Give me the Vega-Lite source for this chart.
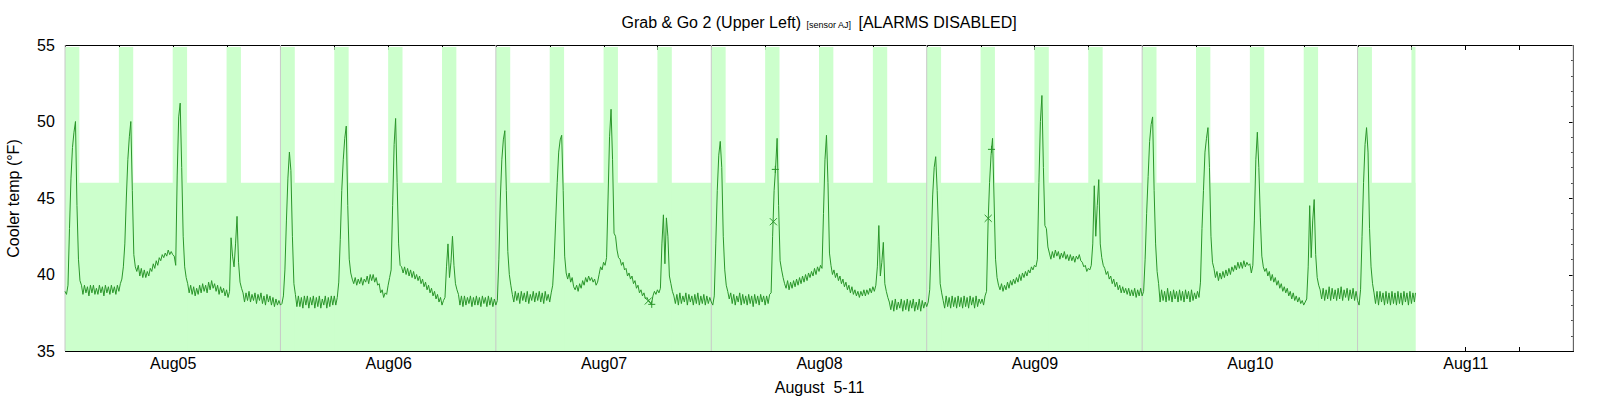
{
  "$schema": "https://vega.github.io/schema/vega-lite/v6.json",
  "width": 1508,
  "height": 306,
  "autosize": {"type": "none"},
  "padding": {"left": 65, "top": 45, "right": 27, "bottom": 49},
  "background": "white",
  "config": {
    "view": {"stroke": null},
    "axis": {
      "labelFont": "Liberation Sans",
      "titleFont": "Liberation Sans",
      "labelFontSize": 16,
      "titleFontSize": 16,
      "titleFontWeight": "normal",
      "labelColor": "#000",
      "titleColor": "#000",
      "tickColor": "#000",
      "domainColor": "#000",
      "tickWidth": 1,
      "domainWidth": 1,
      "grid": false,
      "zindex": 1
    }
  },
  "datasets": {
    "zones": [
      {"s": "2019-08-04T12:00Z", "e": "2019-08-10T18:27Z", "lo": 35, "hi": 46},
      {"s": "2019-08-04T12:00Z", "e": "2019-08-04T13:36Z", "lo": 35, "hi": 54.87},
      {"s": "2019-08-04T18:00Z", "e": "2019-08-04T19:36Z", "lo": 35, "hi": 54.87},
      {"s": "2019-08-05T00:00Z", "e": "2019-08-05T01:36Z", "lo": 35, "hi": 54.87},
      {"s": "2019-08-05T06:00Z", "e": "2019-08-05T07:36Z", "lo": 35, "hi": 54.87},
      {"s": "2019-08-05T12:00Z", "e": "2019-08-05T13:36Z", "lo": 35, "hi": 54.87},
      {"s": "2019-08-05T18:00Z", "e": "2019-08-05T19:36Z", "lo": 35, "hi": 54.87},
      {"s": "2019-08-06T00:00Z", "e": "2019-08-06T01:36Z", "lo": 35, "hi": 54.87},
      {"s": "2019-08-06T06:00Z", "e": "2019-08-06T07:36Z", "lo": 35, "hi": 54.87},
      {"s": "2019-08-06T12:00Z", "e": "2019-08-06T13:36Z", "lo": 35, "hi": 54.87},
      {"s": "2019-08-06T18:00Z", "e": "2019-08-06T19:36Z", "lo": 35, "hi": 54.87},
      {"s": "2019-08-07T00:00Z", "e": "2019-08-07T01:36Z", "lo": 35, "hi": 54.87},
      {"s": "2019-08-07T06:00Z", "e": "2019-08-07T07:36Z", "lo": 35, "hi": 54.87},
      {"s": "2019-08-07T12:00Z", "e": "2019-08-07T13:36Z", "lo": 35, "hi": 54.87},
      {"s": "2019-08-07T18:00Z", "e": "2019-08-07T19:36Z", "lo": 35, "hi": 54.87},
      {"s": "2019-08-08T00:00Z", "e": "2019-08-08T01:36Z", "lo": 35, "hi": 54.87},
      {"s": "2019-08-08T06:00Z", "e": "2019-08-08T07:36Z", "lo": 35, "hi": 54.87},
      {"s": "2019-08-08T12:00Z", "e": "2019-08-08T13:36Z", "lo": 35, "hi": 54.87},
      {"s": "2019-08-08T18:00Z", "e": "2019-08-08T19:36Z", "lo": 35, "hi": 54.87},
      {"s": "2019-08-09T00:00Z", "e": "2019-08-09T01:36Z", "lo": 35, "hi": 54.87},
      {"s": "2019-08-09T06:00Z", "e": "2019-08-09T07:36Z", "lo": 35, "hi": 54.87},
      {"s": "2019-08-09T12:00Z", "e": "2019-08-09T13:36Z", "lo": 35, "hi": 54.87},
      {"s": "2019-08-09T18:00Z", "e": "2019-08-09T19:36Z", "lo": 35, "hi": 54.87},
      {"s": "2019-08-10T00:00Z", "e": "2019-08-10T01:36Z", "lo": 35, "hi": 54.87},
      {"s": "2019-08-10T06:00Z", "e": "2019-08-10T07:36Z", "lo": 35, "hi": 54.87},
      {"s": "2019-08-10T12:00Z", "e": "2019-08-10T13:36Z", "lo": 35, "hi": 54.87},
      {"s": "2019-08-10T18:00Z", "e": "2019-08-10T18:27Z", "lo": 35, "hi": 54.87}
    ],
    "noon": [
      {"t": "2019-08-04T12:00Z"}, {"t": "2019-08-05T12:00Z"}, {"t": "2019-08-06T12:00Z"},
      {"t": "2019-08-07T12:00Z"}, {"t": "2019-08-08T12:00Z"}, {"t": "2019-08-09T12:00Z"},
      {"t": "2019-08-10T12:00Z"}, {"t": "2019-08-11T12:00Z"}
    ],
    "crosses": [
      {"t": "2019-08-07T04:59Z", "v": 38.27},
      {"t": "2019-08-07T18:55Z", "v": 43.45},
      {"t": "2019-08-08T18:51Z", "v": 43.67}
    ],
    "pluses": [
      {"t": "2019-08-07T05:22Z", "v": 38.05},
      {"t": "2019-08-07T19:08Z", "v": 46.87},
      {"t": "2019-08-08T19:13Z", "v": 48.18}
    ],
    "temp": [
      {"t":"2019-08-04T12:00Z","v":38.9},{"t":"2019-08-04T12:10Z","v":38.7},{"t":"2019-08-04T12:20Z","v":39.3},{"t":"2019-08-04T12:30Z","v":43.0},{"t":"2019-08-04T12:40Z","v":46.3},{"t":"2019-08-04T12:50Z","v":48.3},
      {"t":"2019-08-04T13:00Z","v":49.3},{"t":"2019-08-04T13:10Z","v":50.0},{"t":"2019-08-04T13:20Z","v":44.5},{"t":"2019-08-04T13:30Z","v":41.0},{"t":"2019-08-04T13:40Z","v":39.6},{"t":"2019-08-04T13:50Z","v":39.3},
      {"t":"2019-08-04T14:00Z","v":38.7},{"t":"2019-08-04T14:10Z","v":39.3},{"t":"2019-08-04T14:20Z","v":38.8},{"t":"2019-08-04T14:30Z","v":39.2},{"t":"2019-08-04T14:40Z","v":38.6},{"t":"2019-08-04T14:50Z","v":39.3},
      {"t":"2019-08-04T15:00Z","v":38.8},{"t":"2019-08-04T15:10Z","v":39.3},{"t":"2019-08-04T15:20Z","v":38.7},{"t":"2019-08-04T15:30Z","v":39.1},{"t":"2019-08-04T15:40Z","v":38.7},{"t":"2019-08-04T15:50Z","v":39.3},
      {"t":"2019-08-04T16:00Z","v":38.8},{"t":"2019-08-04T16:10Z","v":39.2},{"t":"2019-08-04T16:20Z","v":38.6},{"t":"2019-08-04T16:30Z","v":39.3},{"t":"2019-08-04T16:40Z","v":38.8},{"t":"2019-08-04T16:50Z","v":39.2},
      {"t":"2019-08-04T17:00Z","v":38.7},{"t":"2019-08-04T17:10Z","v":39.3},{"t":"2019-08-04T17:20Z","v":38.8},{"t":"2019-08-04T17:30Z","v":39.2},{"t":"2019-08-04T17:40Z","v":38.7},{"t":"2019-08-04T17:50Z","v":39.3},
      {"t":"2019-08-04T18:00Z","v":38.9},{"t":"2019-08-04T18:10Z","v":39.4},{"t":"2019-08-04T18:20Z","v":39.7},{"t":"2019-08-04T18:30Z","v":40.5},{"t":"2019-08-04T18:40Z","v":42.0},{"t":"2019-08-04T18:50Z","v":45.0},
      {"t":"2019-08-04T19:00Z","v":47.5},{"t":"2019-08-04T19:10Z","v":49.0},{"t":"2019-08-04T19:20Z","v":50.0},{"t":"2019-08-04T19:30Z","v":45.5},{"t":"2019-08-04T19:40Z","v":41.3},{"t":"2019-08-04T19:50Z","v":40.5},
      {"t":"2019-08-04T20:00Z","v":40.2},{"t":"2019-08-04T20:10Z","v":40.6},{"t":"2019-08-04T20:20Z","v":39.9},{"t":"2019-08-04T20:30Z","v":40.4},{"t":"2019-08-04T20:40Z","v":39.8},{"t":"2019-08-04T20:50Z","v":40.3},
      {"t":"2019-08-04T21:00Z","v":39.8},{"t":"2019-08-04T21:10Z","v":40.2},{"t":"2019-08-04T21:20Z","v":39.9},{"t":"2019-08-04T21:30Z","v":40.4},{"t":"2019-08-04T21:40Z","v":40.2},{"t":"2019-08-04T21:50Z","v":40.7},
      {"t":"2019-08-04T22:00Z","v":40.4},{"t":"2019-08-04T22:10Z","v":40.9},{"t":"2019-08-04T22:20Z","v":40.6},{"t":"2019-08-04T22:30Z","v":41.1},{"t":"2019-08-04T22:40Z","v":40.9},{"t":"2019-08-04T22:50Z","v":41.3},
      {"t":"2019-08-04T23:00Z","v":41.1},{"t":"2019-08-04T23:10Z","v":41.4},{"t":"2019-08-04T23:20Z","v":41.2},{"t":"2019-08-04T23:30Z","v":41.6},{"t":"2019-08-04T23:40Z","v":41.3},{"t":"2019-08-04T23:50Z","v":41.5},
      {"t":"2019-08-05T00:00Z","v":41.3},{"t":"2019-08-05T00:10Z","v":41.2},{"t":"2019-08-05T00:20Z","v":40.6},{"t":"2019-08-05T00:30Z","v":46.5},{"t":"2019-08-05T00:40Z","v":50.3},{"t":"2019-08-05T00:50Z","v":51.2},
      {"t":"2019-08-05T01:00Z","v":47.0},{"t":"2019-08-05T01:10Z","v":42.5},{"t":"2019-08-05T01:20Z","v":40.5},{"t":"2019-08-05T01:30Z","v":39.8},{"t":"2019-08-05T01:40Z","v":39.4},{"t":"2019-08-05T01:50Z","v":38.8},
      {"t":"2019-08-05T02:00Z","v":39.3},{"t":"2019-08-05T02:10Z","v":38.7},{"t":"2019-08-05T02:20Z","v":39.2},{"t":"2019-08-05T02:30Z","v":38.6},{"t":"2019-08-05T02:40Z","v":39.1},{"t":"2019-08-05T02:50Z","v":38.7},
      {"t":"2019-08-05T03:00Z","v":39.3},{"t":"2019-08-05T03:10Z","v":38.8},{"t":"2019-08-05T03:20Z","v":39.4},{"t":"2019-08-05T03:30Z","v":38.9},{"t":"2019-08-05T03:40Z","v":39.3},{"t":"2019-08-05T03:50Z","v":38.8},
      {"t":"2019-08-05T04:00Z","v":39.5},{"t":"2019-08-05T04:10Z","v":39.0},{"t":"2019-08-05T04:20Z","v":39.6},{"t":"2019-08-05T04:30Z","v":39.1},{"t":"2019-08-05T04:40Z","v":39.4},{"t":"2019-08-05T04:50Z","v":38.9},
      {"t":"2019-08-05T05:00Z","v":39.3},{"t":"2019-08-05T05:10Z","v":38.7},{"t":"2019-08-05T05:20Z","v":39.2},{"t":"2019-08-05T05:30Z","v":38.8},{"t":"2019-08-05T05:40Z","v":39.1},{"t":"2019-08-05T05:50Z","v":38.6},
      {"t":"2019-08-05T06:00Z","v":39.0},{"t":"2019-08-05T06:10Z","v":38.5},{"t":"2019-08-05T06:20Z","v":38.9},{"t":"2019-08-05T06:30Z","v":42.4},{"t":"2019-08-05T06:40Z","v":41.2},{"t":"2019-08-05T06:50Z","v":40.5},
      {"t":"2019-08-05T07:00Z","v":42.0},{"t":"2019-08-05T07:10Z","v":43.8},{"t":"2019-08-05T07:20Z","v":40.8},{"t":"2019-08-05T07:30Z","v":39.5},{"t":"2019-08-05T07:40Z","v":39.1},{"t":"2019-08-05T07:50Z","v":38.8},
      {"t":"2019-08-05T08:00Z","v":38.2},{"t":"2019-08-05T08:10Z","v":38.8},{"t":"2019-08-05T08:20Z","v":38.3},{"t":"2019-08-05T08:30Z","v":38.9},{"t":"2019-08-05T08:40Z","v":38.2},{"t":"2019-08-05T08:50Z","v":38.7},
      {"t":"2019-08-05T09:00Z","v":38.3},{"t":"2019-08-05T09:10Z","v":38.8},{"t":"2019-08-05T09:20Z","v":38.1},{"t":"2019-08-05T09:30Z","v":38.7},{"t":"2019-08-05T09:40Z","v":38.3},{"t":"2019-08-05T09:50Z","v":38.8},
      {"t":"2019-08-05T10:00Z","v":38.1},{"t":"2019-08-05T10:10Z","v":38.6},{"t":"2019-08-05T10:20Z","v":38.0},{"t":"2019-08-05T10:30Z","v":38.7},{"t":"2019-08-05T10:40Z","v":38.2},{"t":"2019-08-05T10:50Z","v":38.6},
      {"t":"2019-08-05T11:00Z","v":38.0},{"t":"2019-08-05T11:10Z","v":38.5},{"t":"2019-08-05T11:20Z","v":37.9},{"t":"2019-08-05T11:30Z","v":38.4},{"t":"2019-08-05T11:40Z","v":38.0},{"t":"2019-08-05T11:50Z","v":38.3},
      {"t":"2019-08-05T12:00Z","v":38.0},{"t":"2019-08-05T12:10Z","v":38.1},{"t":"2019-08-05T12:20Z","v":38.6},{"t":"2019-08-05T12:30Z","v":40.3},{"t":"2019-08-05T12:40Z","v":43.5},{"t":"2019-08-05T12:50Z","v":46.3},
      {"t":"2019-08-05T13:00Z","v":48.0},{"t":"2019-08-05T13:10Z","v":46.8},{"t":"2019-08-05T13:20Z","v":42.5},{"t":"2019-08-05T13:30Z","v":39.4},{"t":"2019-08-05T13:40Z","v":38.7},{"t":"2019-08-05T13:50Z","v":37.9},
      {"t":"2019-08-05T14:00Z","v":38.6},{"t":"2019-08-05T14:10Z","v":37.9},{"t":"2019-08-05T14:20Z","v":38.5},{"t":"2019-08-05T14:30Z","v":37.8},{"t":"2019-08-05T14:40Z","v":38.6},{"t":"2019-08-05T14:50Z","v":38.0},
      {"t":"2019-08-05T15:00Z","v":38.6},{"t":"2019-08-05T15:10Z","v":37.8},{"t":"2019-08-05T15:20Z","v":38.5},{"t":"2019-08-05T15:30Z","v":38.0},{"t":"2019-08-05T15:40Z","v":38.6},{"t":"2019-08-05T15:50Z","v":37.8},
      {"t":"2019-08-05T16:00Z","v":38.5},{"t":"2019-08-05T16:10Z","v":37.9},{"t":"2019-08-05T16:20Z","v":38.6},{"t":"2019-08-05T16:30Z","v":37.8},{"t":"2019-08-05T16:40Z","v":38.4},{"t":"2019-08-05T16:50Z","v":38.0},
      {"t":"2019-08-05T17:00Z","v":38.6},{"t":"2019-08-05T17:10Z","v":37.8},{"t":"2019-08-05T17:20Z","v":38.5},{"t":"2019-08-05T17:30Z","v":37.9},{"t":"2019-08-05T17:40Z","v":38.6},{"t":"2019-08-05T17:50Z","v":38.0},
      {"t":"2019-08-05T18:00Z","v":38.6},{"t":"2019-08-05T18:10Z","v":38.0},{"t":"2019-08-05T18:20Z","v":38.5},{"t":"2019-08-05T18:30Z","v":39.5},{"t":"2019-08-05T18:40Z","v":42.3},{"t":"2019-08-05T18:50Z","v":45.5},
      {"t":"2019-08-05T19:00Z","v":47.5},{"t":"2019-08-05T19:10Z","v":48.9},{"t":"2019-08-05T19:20Z","v":49.7},{"t":"2019-08-05T19:30Z","v":44.5},{"t":"2019-08-05T19:40Z","v":41.0},{"t":"2019-08-05T19:50Z","v":40.1},
      {"t":"2019-08-05T20:00Z","v":39.7},{"t":"2019-08-05T20:10Z","v":39.4},{"t":"2019-08-05T20:20Z","v":39.8},{"t":"2019-08-05T20:30Z","v":39.3},{"t":"2019-08-05T20:40Z","v":39.7},{"t":"2019-08-05T20:50Z","v":39.4},
      {"t":"2019-08-05T21:00Z","v":39.8},{"t":"2019-08-05T21:10Z","v":39.3},{"t":"2019-08-05T21:20Z","v":39.7},{"t":"2019-08-05T21:30Z","v":39.5},{"t":"2019-08-05T21:40Z","v":39.9},{"t":"2019-08-05T21:50Z","v":39.4},
      {"t":"2019-08-05T22:00Z","v":40.0},{"t":"2019-08-05T22:10Z","v":39.6},{"t":"2019-08-05T22:20Z","v":40.0},{"t":"2019-08-05T22:30Z","v":39.5},{"t":"2019-08-05T22:40Z","v":39.8},{"t":"2019-08-05T22:50Z","v":39.3},
      {"t":"2019-08-05T23:00Z","v":39.4},{"t":"2019-08-05T23:10Z","v":38.8},{"t":"2019-08-05T23:20Z","v":39.0},{"t":"2019-08-05T23:30Z","v":38.5},{"t":"2019-08-05T23:40Z","v":38.8},{"t":"2019-08-05T23:50Z","v":38.7},
      {"t":"2019-08-06T00:00Z","v":39.3},{"t":"2019-08-06T00:10Z","v":39.8},{"t":"2019-08-06T00:20Z","v":40.3},{"t":"2019-08-06T00:30Z","v":44.5},{"t":"2019-08-06T00:40Z","v":48.5},{"t":"2019-08-06T00:50Z","v":50.2},
      {"t":"2019-08-06T01:00Z","v":46.0},{"t":"2019-08-06T01:10Z","v":42.0},{"t":"2019-08-06T01:20Z","v":40.6},{"t":"2019-08-06T01:30Z","v":40.5},{"t":"2019-08-06T01:40Z","v":40.1},{"t":"2019-08-06T01:50Z","v":40.5},
      {"t":"2019-08-06T02:00Z","v":40.0},{"t":"2019-08-06T02:10Z","v":40.4},{"t":"2019-08-06T02:20Z","v":39.9},{"t":"2019-08-06T02:30Z","v":40.3},{"t":"2019-08-06T02:40Z","v":39.8},{"t":"2019-08-06T02:50Z","v":40.2},
      {"t":"2019-08-06T03:00Z","v":39.7},{"t":"2019-08-06T03:10Z","v":40.0},{"t":"2019-08-06T03:20Z","v":39.6},{"t":"2019-08-06T03:30Z","v":39.9},{"t":"2019-08-06T03:40Z","v":39.4},{"t":"2019-08-06T03:50Z","v":39.7},
      {"t":"2019-08-06T04:00Z","v":39.2},{"t":"2019-08-06T04:10Z","v":39.5},{"t":"2019-08-06T04:20Z","v":39.0},{"t":"2019-08-06T04:30Z","v":39.3},{"t":"2019-08-06T04:40Z","v":38.8},{"t":"2019-08-06T04:50Z","v":39.1},
      {"t":"2019-08-06T05:00Z","v":38.6},{"t":"2019-08-06T05:10Z","v":38.9},{"t":"2019-08-06T05:20Z","v":38.4},{"t":"2019-08-06T05:30Z","v":38.7},{"t":"2019-08-06T05:40Z","v":38.2},{"t":"2019-08-06T05:50Z","v":38.5},
      {"t":"2019-08-06T06:00Z","v":38.0},{"t":"2019-08-06T06:10Z","v":38.3},{"t":"2019-08-06T06:20Z","v":38.5},{"t":"2019-08-06T06:30Z","v":40.5},{"t":"2019-08-06T06:40Z","v":42.0},{"t":"2019-08-06T06:50Z","v":39.8},
      {"t":"2019-08-06T07:00Z","v":40.8},{"t":"2019-08-06T07:10Z","v":42.5},{"t":"2019-08-06T07:20Z","v":40.6},{"t":"2019-08-06T07:30Z","v":39.4},{"t":"2019-08-06T07:40Z","v":39.0},{"t":"2019-08-06T07:50Z","v":38.7},
      {"t":"2019-08-06T08:00Z","v":38.0},{"t":"2019-08-06T08:10Z","v":38.6},{"t":"2019-08-06T08:20Z","v":37.9},{"t":"2019-08-06T08:30Z","v":38.6},{"t":"2019-08-06T08:40Z","v":38.0},{"t":"2019-08-06T08:50Z","v":38.5},
      {"t":"2019-08-06T09:00Z","v":38.1},{"t":"2019-08-06T09:10Z","v":38.6},{"t":"2019-08-06T09:20Z","v":37.9},{"t":"2019-08-06T09:30Z","v":38.5},{"t":"2019-08-06T09:40Z","v":38.0},{"t":"2019-08-06T09:50Z","v":38.6},
      {"t":"2019-08-06T10:00Z","v":38.0},{"t":"2019-08-06T10:10Z","v":38.5},{"t":"2019-08-06T10:20Z","v":37.9},{"t":"2019-08-06T10:30Z","v":38.6},{"t":"2019-08-06T10:40Z","v":38.1},{"t":"2019-08-06T10:50Z","v":38.5},
      {"t":"2019-08-06T11:00Z","v":37.9},{"t":"2019-08-06T11:10Z","v":38.6},{"t":"2019-08-06T11:20Z","v":38.0},{"t":"2019-08-06T11:30Z","v":38.5},{"t":"2019-08-06T11:40Z","v":37.9},{"t":"2019-08-06T11:50Z","v":38.4},
      {"t":"2019-08-06T12:00Z","v":38.0},{"t":"2019-08-06T12:10Z","v":38.3},{"t":"2019-08-06T12:20Z","v":41.0},{"t":"2019-08-06T12:30Z","v":45.0},{"t":"2019-08-06T12:40Z","v":47.5},{"t":"2019-08-06T12:50Z","v":48.8},
      {"t":"2019-08-06T13:00Z","v":49.4},{"t":"2019-08-06T13:10Z","v":45.5},{"t":"2019-08-06T13:20Z","v":41.5},{"t":"2019-08-06T13:30Z","v":40.0},{"t":"2019-08-06T13:40Z","v":39.3},{"t":"2019-08-06T13:50Z","v":38.7},
      {"t":"2019-08-06T14:00Z","v":38.2},{"t":"2019-08-06T14:10Z","v":38.9},{"t":"2019-08-06T14:20Z","v":38.3},{"t":"2019-08-06T14:30Z","v":38.8},{"t":"2019-08-06T14:40Z","v":38.1},{"t":"2019-08-06T14:50Z","v":38.9},
      {"t":"2019-08-06T15:00Z","v":38.3},{"t":"2019-08-06T15:10Z","v":38.8},{"t":"2019-08-06T15:20Z","v":38.2},{"t":"2019-08-06T15:30Z","v":38.9},{"t":"2019-08-06T15:40Z","v":38.1},{"t":"2019-08-06T15:50Z","v":38.7},
      {"t":"2019-08-06T16:00Z","v":38.3},{"t":"2019-08-06T16:10Z","v":38.9},{"t":"2019-08-06T16:20Z","v":38.2},{"t":"2019-08-06T16:30Z","v":38.8},{"t":"2019-08-06T16:40Z","v":38.3},{"t":"2019-08-06T16:50Z","v":38.9},
      {"t":"2019-08-06T17:00Z","v":38.2},{"t":"2019-08-06T17:10Z","v":38.8},{"t":"2019-08-06T17:20Z","v":38.1},{"t":"2019-08-06T17:30Z","v":38.9},{"t":"2019-08-06T17:40Z","v":38.3},{"t":"2019-08-06T17:50Z","v":38.7},
      {"t":"2019-08-06T18:00Z","v":38.2},{"t":"2019-08-06T18:10Z","v":38.8},{"t":"2019-08-06T18:20Z","v":39.3},{"t":"2019-08-06T18:30Z","v":41.0},{"t":"2019-08-06T18:40Z","v":43.5},{"t":"2019-08-06T18:50Z","v":46.0},
      {"t":"2019-08-06T19:00Z","v":48.0},{"t":"2019-08-06T19:10Z","v":48.8},{"t":"2019-08-06T19:20Z","v":49.1},{"t":"2019-08-06T19:30Z","v":45.5},{"t":"2019-08-06T19:40Z","v":41.2},{"t":"2019-08-06T19:50Z","v":40.1},
      {"t":"2019-08-06T20:00Z","v":39.7},{"t":"2019-08-06T20:10Z","v":40.1},{"t":"2019-08-06T20:20Z","v":39.5},{"t":"2019-08-06T20:30Z","v":39.8},{"t":"2019-08-06T20:40Z","v":39.2},{"t":"2019-08-06T20:50Z","v":39.0},
      {"t":"2019-08-06T21:00Z","v":39.3},{"t":"2019-08-06T21:10Z","v":38.9},{"t":"2019-08-06T21:20Z","v":39.4},{"t":"2019-08-06T21:30Z","v":39.1},{"t":"2019-08-06T21:40Z","v":39.6},{"t":"2019-08-06T21:50Z","v":39.3},
      {"t":"2019-08-06T22:00Z","v":39.8},{"t":"2019-08-06T22:10Z","v":39.5},{"t":"2019-08-06T22:20Z","v":39.9},{"t":"2019-08-06T22:30Z","v":39.6},{"t":"2019-08-06T22:40Z","v":39.8},{"t":"2019-08-06T22:50Z","v":39.5},
      {"t":"2019-08-06T23:00Z","v":39.7},{"t":"2019-08-06T23:10Z","v":39.3},{"t":"2019-08-06T23:20Z","v":39.5},{"t":"2019-08-06T23:30Z","v":40.0},{"t":"2019-08-06T23:40Z","v":40.5},{"t":"2019-08-06T23:50Z","v":40.3},
      {"t":"2019-08-07T00:00Z","v":40.8},{"t":"2019-08-07T00:10Z","v":40.6},{"t":"2019-08-07T00:20Z","v":41.1},{"t":"2019-08-07T00:30Z","v":45.0},{"t":"2019-08-07T00:40Z","v":49.0},{"t":"2019-08-07T00:50Z","v":50.8},
      {"t":"2019-08-07T01:00Z","v":47.5},{"t":"2019-08-07T01:10Z","v":42.7},{"t":"2019-08-07T01:20Z","v":42.5},{"t":"2019-08-07T01:30Z","v":41.6},{"t":"2019-08-07T01:40Z","v":41.1},{"t":"2019-08-07T01:50Z","v":41.0},
      {"t":"2019-08-07T02:00Z","v":40.6},{"t":"2019-08-07T02:10Z","v":40.8},{"t":"2019-08-07T02:20Z","v":40.3},{"t":"2019-08-07T02:30Z","v":40.4},{"t":"2019-08-07T02:40Z","v":39.9},{"t":"2019-08-07T02:50Z","v":40.1},
      {"t":"2019-08-07T03:00Z","v":39.7},{"t":"2019-08-07T03:10Z","v":39.9},{"t":"2019-08-07T03:20Z","v":39.4},{"t":"2019-08-07T03:30Z","v":39.6},{"t":"2019-08-07T03:40Z","v":39.1},{"t":"2019-08-07T03:50Z","v":39.3},
      {"t":"2019-08-07T04:00Z","v":38.8},{"t":"2019-08-07T04:10Z","v":39.0},{"t":"2019-08-07T04:20Z","v":38.6},{"t":"2019-08-07T04:30Z","v":38.8},{"t":"2019-08-07T04:40Z","v":38.4},{"t":"2019-08-07T04:50Z","v":38.5},
      {"t":"2019-08-07T05:00Z","v":38.3},{"t":"2019-08-07T05:10Z","v":38.2},{"t":"2019-08-07T05:20Z","v":38.05},{"t":"2019-08-07T05:30Z","v":38.6},{"t":"2019-08-07T05:40Z","v":38.9},{"t":"2019-08-07T05:50Z","v":38.7},
      {"t":"2019-08-07T06:00Z","v":39.0},{"t":"2019-08-07T06:10Z","v":38.8},{"t":"2019-08-07T06:20Z","v":39.1},{"t":"2019-08-07T06:30Z","v":42.0},{"t":"2019-08-07T06:40Z","v":43.9},{"t":"2019-08-07T06:50Z","v":40.7},
      {"t":"2019-08-07T07:00Z","v":43.7},{"t":"2019-08-07T07:10Z","v":42.5},{"t":"2019-08-07T07:20Z","v":39.9},{"t":"2019-08-07T07:30Z","v":39.4},{"t":"2019-08-07T07:40Z","v":38.9},{"t":"2019-08-07T07:50Z","v":38.6},
      {"t":"2019-08-07T08:00Z","v":38.1},{"t":"2019-08-07T08:10Z","v":38.7},{"t":"2019-08-07T08:20Z","v":38.0},{"t":"2019-08-07T08:30Z","v":38.8},{"t":"2019-08-07T08:40Z","v":38.1},{"t":"2019-08-07T08:50Z","v":38.6},
      {"t":"2019-08-07T09:00Z","v":38.2},{"t":"2019-08-07T09:10Z","v":38.8},{"t":"2019-08-07T09:20Z","v":38.0},{"t":"2019-08-07T09:30Z","v":38.7},{"t":"2019-08-07T09:40Z","v":38.2},{"t":"2019-08-07T09:50Z","v":38.6},
      {"t":"2019-08-07T10:00Z","v":38.0},{"t":"2019-08-07T10:10Z","v":38.7},{"t":"2019-08-07T10:20Z","v":38.1},{"t":"2019-08-07T10:30Z","v":38.8},{"t":"2019-08-07T10:40Z","v":38.0},{"t":"2019-08-07T10:50Z","v":38.6},
      {"t":"2019-08-07T11:00Z","v":38.1},{"t":"2019-08-07T11:10Z","v":38.7},{"t":"2019-08-07T11:20Z","v":38.0},{"t":"2019-08-07T11:30Z","v":38.6},{"t":"2019-08-07T11:40Z","v":38.1},{"t":"2019-08-07T11:50Z","v":38.5},
      {"t":"2019-08-07T12:00Z","v":38.2},{"t":"2019-08-07T12:10Z","v":38.0},{"t":"2019-08-07T12:20Z","v":38.6},{"t":"2019-08-07T12:30Z","v":42.0},{"t":"2019-08-07T12:40Z","v":45.5},{"t":"2019-08-07T12:50Z","v":47.8},
      {"t":"2019-08-07T13:00Z","v":48.7},{"t":"2019-08-07T13:10Z","v":47.0},{"t":"2019-08-07T13:20Z","v":42.5},{"t":"2019-08-07T13:30Z","v":40.3},{"t":"2019-08-07T13:40Z","v":39.3},{"t":"2019-08-07T13:50Z","v":38.9},
      {"t":"2019-08-07T14:00Z","v":38.4},{"t":"2019-08-07T14:10Z","v":38.8},{"t":"2019-08-07T14:20Z","v":38.1},{"t":"2019-08-07T14:30Z","v":38.7},{"t":"2019-08-07T14:40Z","v":38.0},{"t":"2019-08-07T14:50Z","v":38.6},
      {"t":"2019-08-07T15:00Z","v":38.2},{"t":"2019-08-07T15:10Z","v":38.8},{"t":"2019-08-07T15:20Z","v":38.0},{"t":"2019-08-07T15:30Z","v":38.7},{"t":"2019-08-07T15:40Z","v":38.1},{"t":"2019-08-07T15:50Z","v":38.6},
      {"t":"2019-08-07T16:00Z","v":38.0},{"t":"2019-08-07T16:10Z","v":38.7},{"t":"2019-08-07T16:20Z","v":38.1},{"t":"2019-08-07T16:30Z","v":38.6},{"t":"2019-08-07T16:40Z","v":37.9},{"t":"2019-08-07T16:50Z","v":38.7},
      {"t":"2019-08-07T17:00Z","v":38.1},{"t":"2019-08-07T17:10Z","v":38.6},{"t":"2019-08-07T17:20Z","v":38.0},{"t":"2019-08-07T17:30Z","v":38.7},{"t":"2019-08-07T17:40Z","v":38.2},{"t":"2019-08-07T17:50Z","v":38.6},
      {"t":"2019-08-07T18:00Z","v":38.0},{"t":"2019-08-07T18:10Z","v":38.6},{"t":"2019-08-07T18:20Z","v":38.1},{"t":"2019-08-07T18:30Z","v":38.7},{"t":"2019-08-07T18:40Z","v":38.8},{"t":"2019-08-07T18:50Z","v":42.5},
      {"t":"2019-08-07T19:00Z","v":45.5},{"t":"2019-08-07T19:10Z","v":47.0},{"t":"2019-08-07T19:20Z","v":48.9},{"t":"2019-08-07T19:30Z","v":44.5},{"t":"2019-08-07T19:40Z","v":40.9},{"t":"2019-08-07T19:50Z","v":40.3},
      {"t":"2019-08-07T20:00Z","v":39.8},{"t":"2019-08-07T20:10Z","v":39.4},{"t":"2019-08-07T20:20Z","v":39.1},{"t":"2019-08-07T20:30Z","v":39.6},{"t":"2019-08-07T20:40Z","v":39.0},{"t":"2019-08-07T20:50Z","v":39.5},
      {"t":"2019-08-07T21:00Z","v":39.1},{"t":"2019-08-07T21:10Z","v":39.6},{"t":"2019-08-07T21:20Z","v":39.2},{"t":"2019-08-07T21:30Z","v":39.7},{"t":"2019-08-07T21:40Z","v":39.3},{"t":"2019-08-07T21:50Z","v":39.8},
      {"t":"2019-08-07T22:00Z","v":39.4},{"t":"2019-08-07T22:10Z","v":39.9},{"t":"2019-08-07T22:20Z","v":39.5},{"t":"2019-08-07T22:30Z","v":40.0},{"t":"2019-08-07T22:40Z","v":39.6},{"t":"2019-08-07T22:50Z","v":40.1},
      {"t":"2019-08-07T23:00Z","v":39.8},{"t":"2019-08-07T23:10Z","v":40.2},{"t":"2019-08-07T23:20Z","v":39.9},{"t":"2019-08-07T23:30Z","v":40.4},{"t":"2019-08-07T23:40Z","v":40.0},{"t":"2019-08-07T23:50Z","v":40.5},
      {"t":"2019-08-08T00:00Z","v":40.2},{"t":"2019-08-08T00:10Z","v":40.6},{"t":"2019-08-08T00:20Z","v":40.4},{"t":"2019-08-08T00:30Z","v":44.0},{"t":"2019-08-08T00:40Z","v":47.5},{"t":"2019-08-08T00:50Z","v":49.1},
      {"t":"2019-08-08T01:00Z","v":46.0},{"t":"2019-08-08T01:10Z","v":41.4},{"t":"2019-08-08T01:20Z","v":40.6},{"t":"2019-08-08T01:30Z","v":40.0},{"t":"2019-08-08T01:40Z","v":40.3},{"t":"2019-08-08T01:50Z","v":39.8},
      {"t":"2019-08-08T02:00Z","v":40.1},{"t":"2019-08-08T02:10Z","v":39.6},{"t":"2019-08-08T02:20Z","v":39.9},{"t":"2019-08-08T02:30Z","v":39.4},{"t":"2019-08-08T02:40Z","v":39.7},{"t":"2019-08-08T02:50Z","v":39.2},
      {"t":"2019-08-08T03:00Z","v":39.5},{"t":"2019-08-08T03:10Z","v":39.0},{"t":"2019-08-08T03:20Z","v":39.3},{"t":"2019-08-08T03:30Z","v":38.8},{"t":"2019-08-08T03:40Z","v":39.2},{"t":"2019-08-08T03:50Z","v":38.7},
      {"t":"2019-08-08T04:00Z","v":39.0},{"t":"2019-08-08T04:10Z","v":38.6},{"t":"2019-08-08T04:20Z","v":38.9},{"t":"2019-08-08T04:30Z","v":38.5},{"t":"2019-08-08T04:40Z","v":38.9},{"t":"2019-08-08T04:50Z","v":38.6},
      {"t":"2019-08-08T05:00Z","v":39.0},{"t":"2019-08-08T05:10Z","v":38.6},{"t":"2019-08-08T05:20Z","v":39.0},{"t":"2019-08-08T05:30Z","v":38.7},{"t":"2019-08-08T05:40Z","v":39.1},{"t":"2019-08-08T05:50Z","v":38.8},
      {"t":"2019-08-08T06:00Z","v":39.2},{"t":"2019-08-08T06:10Z","v":38.9},{"t":"2019-08-08T06:20Z","v":39.3},{"t":"2019-08-08T06:30Z","v":40.5},{"t":"2019-08-08T06:40Z","v":43.2},{"t":"2019-08-08T06:50Z","v":39.9},
      {"t":"2019-08-08T07:00Z","v":40.8},{"t":"2019-08-08T07:10Z","v":42.1},{"t":"2019-08-08T07:20Z","v":39.4},{"t":"2019-08-08T07:30Z","v":38.9},{"t":"2019-08-08T07:40Z","v":38.5},{"t":"2019-08-08T07:50Z","v":38.2},
      {"t":"2019-08-08T08:00Z","v":37.7},{"t":"2019-08-08T08:10Z","v":38.3},{"t":"2019-08-08T08:20Z","v":37.6},{"t":"2019-08-08T08:30Z","v":38.4},{"t":"2019-08-08T08:40Z","v":37.7},{"t":"2019-08-08T08:50Z","v":38.2},
      {"t":"2019-08-08T09:00Z","v":37.8},{"t":"2019-08-08T09:10Z","v":38.4},{"t":"2019-08-08T09:20Z","v":37.6},{"t":"2019-08-08T09:30Z","v":38.3},{"t":"2019-08-08T09:40Z","v":37.7},{"t":"2019-08-08T09:50Z","v":38.4},
      {"t":"2019-08-08T10:00Z","v":37.6},{"t":"2019-08-08T10:10Z","v":38.3},{"t":"2019-08-08T10:20Z","v":37.8},{"t":"2019-08-08T10:30Z","v":38.4},{"t":"2019-08-08T10:40Z","v":37.6},{"t":"2019-08-08T10:50Z","v":38.2},
      {"t":"2019-08-08T11:00Z","v":37.7},{"t":"2019-08-08T11:10Z","v":38.4},{"t":"2019-08-08T11:20Z","v":37.6},{"t":"2019-08-08T11:30Z","v":38.3},{"t":"2019-08-08T11:40Z","v":37.8},{"t":"2019-08-08T11:50Z","v":38.2},
      {"t":"2019-08-08T12:00Z","v":37.9},{"t":"2019-08-08T12:10Z","v":38.2},{"t":"2019-08-08T12:20Z","v":39.0},{"t":"2019-08-08T12:30Z","v":42.0},{"t":"2019-08-08T12:40Z","v":45.2},{"t":"2019-08-08T12:50Z","v":47.0},
      {"t":"2019-08-08T13:00Z","v":47.7},{"t":"2019-08-08T13:10Z","v":45.5},{"t":"2019-08-08T13:20Z","v":42.5},{"t":"2019-08-08T13:30Z","v":39.4},{"t":"2019-08-08T13:40Z","v":38.8},{"t":"2019-08-08T13:50Z","v":38.3},
      {"t":"2019-08-08T14:00Z","v":37.8},{"t":"2019-08-08T14:10Z","v":38.6},{"t":"2019-08-08T14:20Z","v":37.9},{"t":"2019-08-08T14:30Z","v":38.5},{"t":"2019-08-08T14:40Z","v":37.8},{"t":"2019-08-08T14:50Z","v":38.6},
      {"t":"2019-08-08T15:00Z","v":37.9},{"t":"2019-08-08T15:10Z","v":38.5},{"t":"2019-08-08T15:20Z","v":37.8},{"t":"2019-08-08T15:30Z","v":38.6},{"t":"2019-08-08T15:40Z","v":37.9},{"t":"2019-08-08T15:50Z","v":38.5},
      {"t":"2019-08-08T16:00Z","v":37.8},{"t":"2019-08-08T16:10Z","v":38.6},{"t":"2019-08-08T16:20Z","v":37.9},{"t":"2019-08-08T16:30Z","v":38.5},{"t":"2019-08-08T16:40Z","v":37.8},{"t":"2019-08-08T16:50Z","v":38.6},
      {"t":"2019-08-08T17:00Z","v":38.0},{"t":"2019-08-08T17:10Z","v":38.5},{"t":"2019-08-08T17:20Z","v":37.8},{"t":"2019-08-08T17:30Z","v":38.6},{"t":"2019-08-08T17:40Z","v":37.9},{"t":"2019-08-08T17:50Z","v":38.4},
      {"t":"2019-08-08T18:00Z","v":38.1},{"t":"2019-08-08T18:10Z","v":38.4},{"t":"2019-08-08T18:20Z","v":38.0},{"t":"2019-08-08T18:30Z","v":38.6},{"t":"2019-08-08T18:40Z","v":38.9},{"t":"2019-08-08T18:50Z","v":43.3},
      {"t":"2019-08-08T19:00Z","v":46.0},{"t":"2019-08-08T19:10Z","v":47.8},{"t":"2019-08-08T19:20Z","v":48.9},{"t":"2019-08-08T19:30Z","v":45.0},{"t":"2019-08-08T19:40Z","v":41.0},{"t":"2019-08-08T19:50Z","v":39.8},
      {"t":"2019-08-08T20:00Z","v":39.3},{"t":"2019-08-08T20:10Z","v":39.0},{"t":"2019-08-08T20:20Z","v":39.4},{"t":"2019-08-08T20:30Z","v":38.9},{"t":"2019-08-08T20:40Z","v":39.3},{"t":"2019-08-08T20:50Z","v":39.0},
      {"t":"2019-08-08T21:00Z","v":39.5},{"t":"2019-08-08T21:10Z","v":39.1},{"t":"2019-08-08T21:20Z","v":39.6},{"t":"2019-08-08T21:30Z","v":39.3},{"t":"2019-08-08T21:40Z","v":39.7},{"t":"2019-08-08T21:50Z","v":39.4},
      {"t":"2019-08-08T22:00Z","v":39.8},{"t":"2019-08-08T22:10Z","v":39.5},{"t":"2019-08-08T22:20Z","v":40.0},{"t":"2019-08-08T22:30Z","v":39.6},{"t":"2019-08-08T22:40Z","v":40.1},{"t":"2019-08-08T22:50Z","v":39.8},
      {"t":"2019-08-08T23:00Z","v":40.2},{"t":"2019-08-08T23:10Z","v":39.9},{"t":"2019-08-08T23:20Z","v":40.3},{"t":"2019-08-08T23:30Z","v":40.1},{"t":"2019-08-08T23:40Z","v":40.5},{"t":"2019-08-08T23:50Z","v":40.3},
      {"t":"2019-08-09T00:00Z","v":40.6},{"t":"2019-08-09T00:10Z","v":40.5},{"t":"2019-08-09T00:20Z","v":41.0},{"t":"2019-08-09T00:30Z","v":46.0},{"t":"2019-08-09T00:40Z","v":50.0},{"t":"2019-08-09T00:50Z","v":51.7},
      {"t":"2019-08-09T01:00Z","v":47.0},{"t":"2019-08-09T01:10Z","v":43.2},{"t":"2019-08-09T01:20Z","v":43.0},{"t":"2019-08-09T01:30Z","v":41.8},{"t":"2019-08-09T01:40Z","v":41.4},{"t":"2019-08-09T01:50Z","v":41.0},
      {"t":"2019-08-09T02:00Z","v":41.5},{"t":"2019-08-09T02:10Z","v":41.1},{"t":"2019-08-09T02:20Z","v":41.6},{"t":"2019-08-09T02:30Z","v":41.2},{"t":"2019-08-09T02:40Z","v":41.5},{"t":"2019-08-09T02:50Z","v":41.0},
      {"t":"2019-08-09T03:00Z","v":41.4},{"t":"2019-08-09T03:10Z","v":41.1},{"t":"2019-08-09T03:20Z","v":41.5},{"t":"2019-08-09T03:30Z","v":41.0},{"t":"2019-08-09T03:40Z","v":41.3},{"t":"2019-08-09T03:50Z","v":40.9},
      {"t":"2019-08-09T04:00Z","v":41.3},{"t":"2019-08-09T04:10Z","v":40.9},{"t":"2019-08-09T04:20Z","v":41.2},{"t":"2019-08-09T04:30Z","v":40.8},{"t":"2019-08-09T04:40Z","v":41.2},{"t":"2019-08-09T04:50Z","v":41.0},
      {"t":"2019-08-09T05:00Z","v":41.3},{"t":"2019-08-09T05:10Z","v":40.9},{"t":"2019-08-09T05:20Z","v":40.8},{"t":"2019-08-09T05:30Z","v":40.5},{"t":"2019-08-09T05:40Z","v":40.6},{"t":"2019-08-09T05:50Z","v":40.2},
      {"t":"2019-08-09T06:00Z","v":40.4},{"t":"2019-08-09T06:10Z","v":40.3},{"t":"2019-08-09T06:20Z","v":40.6},{"t":"2019-08-09T06:30Z","v":42.0},{"t":"2019-08-09T06:40Z","v":45.8},{"t":"2019-08-09T06:50Z","v":42.5},
      {"t":"2019-08-09T07:00Z","v":44.5},{"t":"2019-08-09T07:10Z","v":46.2},{"t":"2019-08-09T07:20Z","v":42.0},{"t":"2019-08-09T07:30Z","v":41.1},{"t":"2019-08-09T07:40Z","v":40.6},{"t":"2019-08-09T07:50Z","v":40.4},
      {"t":"2019-08-09T08:00Z","v":40.0},{"t":"2019-08-09T08:10Z","v":40.2},{"t":"2019-08-09T08:20Z","v":39.7},{"t":"2019-08-09T08:30Z","v":39.9},{"t":"2019-08-09T08:40Z","v":39.4},{"t":"2019-08-09T08:50Z","v":39.7},
      {"t":"2019-08-09T09:00Z","v":39.2},{"t":"2019-08-09T09:10Z","v":39.5},{"t":"2019-08-09T09:20Z","v":39.0},{"t":"2019-08-09T09:30Z","v":39.3},{"t":"2019-08-09T09:40Z","v":38.8},{"t":"2019-08-09T09:50Z","v":39.2},
      {"t":"2019-08-09T10:00Z","v":38.8},{"t":"2019-08-09T10:10Z","v":39.1},{"t":"2019-08-09T10:20Z","v":38.7},{"t":"2019-08-09T10:30Z","v":39.1},{"t":"2019-08-09T10:40Z","v":38.6},{"t":"2019-08-09T10:50Z","v":39.0},
      {"t":"2019-08-09T11:00Z","v":38.6},{"t":"2019-08-09T11:10Z","v":39.1},{"t":"2019-08-09T11:20Z","v":38.5},{"t":"2019-08-09T11:30Z","v":39.0},{"t":"2019-08-09T11:40Z","v":38.6},{"t":"2019-08-09T11:50Z","v":39.1},
      {"t":"2019-08-09T12:00Z","v":38.6},{"t":"2019-08-09T12:10Z","v":38.9},{"t":"2019-08-09T12:20Z","v":41.0},{"t":"2019-08-09T12:30Z","v":44.0},{"t":"2019-08-09T12:40Z","v":46.4},{"t":"2019-08-09T12:50Z","v":48.7},
      {"t":"2019-08-09T13:00Z","v":49.8},{"t":"2019-08-09T13:10Z","v":50.3},{"t":"2019-08-09T13:20Z","v":45.5},{"t":"2019-08-09T13:30Z","v":42.0},{"t":"2019-08-09T13:40Z","v":40.2},{"t":"2019-08-09T13:50Z","v":39.4},
      {"t":"2019-08-09T14:00Z","v":38.2},{"t":"2019-08-09T14:10Z","v":39.0},{"t":"2019-08-09T14:20Z","v":38.3},{"t":"2019-08-09T14:30Z","v":38.9},{"t":"2019-08-09T14:40Z","v":38.2},{"t":"2019-08-09T14:50Z","v":39.1},
      {"t":"2019-08-09T15:00Z","v":38.3},{"t":"2019-08-09T15:10Z","v":38.9},{"t":"2019-08-09T15:20Z","v":38.2},{"t":"2019-08-09T15:30Z","v":39.0},{"t":"2019-08-09T15:40Z","v":38.4},{"t":"2019-08-09T15:50Z","v":38.9},
      {"t":"2019-08-09T16:00Z","v":38.2},{"t":"2019-08-09T16:10Z","v":39.0},{"t":"2019-08-09T16:20Z","v":38.3},{"t":"2019-08-09T16:30Z","v":38.9},{"t":"2019-08-09T16:40Z","v":38.2},{"t":"2019-08-09T16:50Z","v":39.0},
      {"t":"2019-08-09T17:00Z","v":38.4},{"t":"2019-08-09T17:10Z","v":38.9},{"t":"2019-08-09T17:20Z","v":38.2},{"t":"2019-08-09T17:30Z","v":39.0},{"t":"2019-08-09T17:40Z","v":38.3},{"t":"2019-08-09T17:50Z","v":38.8},
      {"t":"2019-08-09T18:00Z","v":38.4},{"t":"2019-08-09T18:10Z","v":38.9},{"t":"2019-08-09T18:20Z","v":38.5},{"t":"2019-08-09T18:30Z","v":39.5},{"t":"2019-08-09T18:40Z","v":43.0},{"t":"2019-08-09T18:50Z","v":45.5},
      {"t":"2019-08-09T19:00Z","v":48.0},{"t":"2019-08-09T19:10Z","v":48.9},{"t":"2019-08-09T19:20Z","v":49.6},{"t":"2019-08-09T19:30Z","v":47.0},{"t":"2019-08-09T19:40Z","v":42.5},{"t":"2019-08-09T19:50Z","v":40.8},
      {"t":"2019-08-09T20:00Z","v":40.4},{"t":"2019-08-09T20:10Z","v":39.8},{"t":"2019-08-09T20:20Z","v":40.2},{"t":"2019-08-09T20:30Z","v":39.6},{"t":"2019-08-09T20:40Z","v":40.1},{"t":"2019-08-09T20:50Z","v":39.7},
      {"t":"2019-08-09T21:00Z","v":40.2},{"t":"2019-08-09T21:10Z","v":39.8},{"t":"2019-08-09T21:20Z","v":40.3},{"t":"2019-08-09T21:30Z","v":39.9},{"t":"2019-08-09T21:40Z","v":40.4},{"t":"2019-08-09T21:50Z","v":40.0},
      {"t":"2019-08-09T22:00Z","v":40.5},{"t":"2019-08-09T22:10Z","v":40.2},{"t":"2019-08-09T22:20Z","v":40.6},{"t":"2019-08-09T22:30Z","v":40.3},{"t":"2019-08-09T22:40Z","v":40.8},{"t":"2019-08-09T22:50Z","v":40.4},
      {"t":"2019-08-09T23:00Z","v":40.8},{"t":"2019-08-09T23:10Z","v":40.4},{"t":"2019-08-09T23:20Z","v":40.9},{"t":"2019-08-09T23:30Z","v":40.5},{"t":"2019-08-09T23:40Z","v":40.8},{"t":"2019-08-09T23:50Z","v":40.6},
      {"t":"2019-08-10T00:00Z","v":40.7},{"t":"2019-08-10T00:10Z","v":40.1},{"t":"2019-08-10T00:20Z","v":40.6},{"t":"2019-08-10T00:30Z","v":43.5},{"t":"2019-08-10T00:40Z","v":47.5},{"t":"2019-08-10T00:50Z","v":49.3},
      {"t":"2019-08-10T01:00Z","v":47.0},{"t":"2019-08-10T01:10Z","v":43.7},{"t":"2019-08-10T01:20Z","v":41.2},{"t":"2019-08-10T01:30Z","v":40.5},{"t":"2019-08-10T01:40Z","v":40.2},{"t":"2019-08-10T01:50Z","v":40.4},
      {"t":"2019-08-10T02:00Z","v":39.9},{"t":"2019-08-10T02:10Z","v":40.2},{"t":"2019-08-10T02:20Z","v":39.6},{"t":"2019-08-10T02:30Z","v":40.0},{"t":"2019-08-10T02:40Z","v":39.5},{"t":"2019-08-10T02:50Z","v":39.8},
      {"t":"2019-08-10T03:00Z","v":39.3},{"t":"2019-08-10T03:10Z","v":39.6},{"t":"2019-08-10T03:20Z","v":39.1},{"t":"2019-08-10T03:30Z","v":39.4},{"t":"2019-08-10T03:40Z","v":38.9},{"t":"2019-08-10T03:50Z","v":39.2},
      {"t":"2019-08-10T04:00Z","v":38.8},{"t":"2019-08-10T04:10Z","v":39.1},{"t":"2019-08-10T04:20Z","v":38.6},{"t":"2019-08-10T04:30Z","v":38.9},{"t":"2019-08-10T04:40Z","v":38.4},{"t":"2019-08-10T04:50Z","v":38.8},
      {"t":"2019-08-10T05:00Z","v":38.3},{"t":"2019-08-10T05:10Z","v":38.6},{"t":"2019-08-10T05:20Z","v":38.2},{"t":"2019-08-10T05:30Z","v":38.5},{"t":"2019-08-10T05:40Z","v":38.1},{"t":"2019-08-10T05:50Z","v":38.3},
      {"t":"2019-08-10T06:00Z","v":38.0},{"t":"2019-08-10T06:10Z","v":38.2},{"t":"2019-08-10T06:20Z","v":38.4},{"t":"2019-08-10T06:30Z","v":40.5},{"t":"2019-08-10T06:40Z","v":44.5},{"t":"2019-08-10T06:50Z","v":41.1},
      {"t":"2019-08-10T07:00Z","v":43.5},{"t":"2019-08-10T07:10Z","v":44.9},{"t":"2019-08-10T07:20Z","v":41.3},{"t":"2019-08-10T07:30Z","v":39.8},{"t":"2019-08-10T07:40Z","v":39.3},{"t":"2019-08-10T07:50Z","v":39.0},
      {"t":"2019-08-10T08:00Z","v":38.4},{"t":"2019-08-10T08:10Z","v":39.1},{"t":"2019-08-10T08:20Z","v":38.3},{"t":"2019-08-10T08:30Z","v":39.0},{"t":"2019-08-10T08:40Z","v":38.4},{"t":"2019-08-10T08:50Z","v":39.2},
      {"t":"2019-08-10T09:00Z","v":38.3},{"t":"2019-08-10T09:10Z","v":39.1},{"t":"2019-08-10T09:20Z","v":38.4},{"t":"2019-08-10T09:30Z","v":39.0},{"t":"2019-08-10T09:40Z","v":38.3},{"t":"2019-08-10T09:50Z","v":39.1},
      {"t":"2019-08-10T10:00Z","v":38.4},{"t":"2019-08-10T10:10Z","v":39.2},{"t":"2019-08-10T10:20Z","v":38.3},{"t":"2019-08-10T10:30Z","v":39.0},{"t":"2019-08-10T10:40Z","v":38.5},{"t":"2019-08-10T10:50Z","v":39.1},
      {"t":"2019-08-10T11:00Z","v":38.3},{"t":"2019-08-10T11:10Z","v":39.0},{"t":"2019-08-10T11:20Z","v":38.4},{"t":"2019-08-10T11:30Z","v":39.1},{"t":"2019-08-10T11:40Z","v":38.3},{"t":"2019-08-10T11:50Z","v":38.9},
      {"t":"2019-08-10T12:00Z","v":38.3},{"t":"2019-08-10T12:10Z","v":38.0},{"t":"2019-08-10T12:20Z","v":39.0},{"t":"2019-08-10T12:30Z","v":42.5},{"t":"2019-08-10T12:40Z","v":46.0},{"t":"2019-08-10T12:50Z","v":48.5},
      {"t":"2019-08-10T13:00Z","v":49.6},{"t":"2019-08-10T13:10Z","v":48.0},{"t":"2019-08-10T13:20Z","v":43.0},{"t":"2019-08-10T13:30Z","v":40.5},{"t":"2019-08-10T13:40Z","v":39.4},{"t":"2019-08-10T13:50Z","v":38.8},
      {"t":"2019-08-10T14:00Z","v":38.1},{"t":"2019-08-10T14:10Z","v":38.9},{"t":"2019-08-10T14:20Z","v":38.0},{"t":"2019-08-10T14:30Z","v":38.9},{"t":"2019-08-10T14:40Z","v":38.2},{"t":"2019-08-10T14:50Z","v":38.8},
      {"t":"2019-08-10T15:00Z","v":38.0},{"t":"2019-08-10T15:10Z","v":38.9},{"t":"2019-08-10T15:20Z","v":38.1},{"t":"2019-08-10T15:30Z","v":38.8},{"t":"2019-08-10T15:40Z","v":38.0},{"t":"2019-08-10T15:50Z","v":38.9},
      {"t":"2019-08-10T16:00Z","v":38.1},{"t":"2019-08-10T16:10Z","v":38.8},{"t":"2019-08-10T16:20Z","v":38.0},{"t":"2019-08-10T16:30Z","v":38.9},{"t":"2019-08-10T16:40Z","v":38.1},{"t":"2019-08-10T16:50Z","v":38.8},
      {"t":"2019-08-10T17:00Z","v":38.0},{"t":"2019-08-10T17:10Z","v":38.9},{"t":"2019-08-10T17:20Z","v":38.2},{"t":"2019-08-10T17:30Z","v":38.8},{"t":"2019-08-10T17:40Z","v":38.0},{"t":"2019-08-10T17:50Z","v":38.9},
      {"t":"2019-08-10T18:00Z","v":38.1},{"t":"2019-08-10T18:10Z","v":38.8},{"t":"2019-08-10T18:20Z","v":38.2},{"t":"2019-08-10T18:27Z","v":38.8}
    ]
  },
  "layer": [
    {
      "data": {"name": "zones"},
      "mark": {"type": "rect", "color": "#ccffcc", "opacity": 1},
      "encoding": {
        "x": {
          "field": "s",
          "type": "temporal",
          "title": "August \u00a05-11",
          "scale": {
            "type": "utc",
            "domain": [
              {"year": 2019, "month": 8, "date": 4, "hours": 12, "utc": true},
              {"year": 2019, "month": 8, "date": 11, "hours": 12, "utc": true}
            ],
            "nice": false
          },
          "axis": {
            "orient": "bottom",
            "values": [
              {"year": 2019, "month": 8, "date": 5, "utc": true},
              {"year": 2019, "month": 8, "date": 6, "utc": true},
              {"year": 2019, "month": 8, "date": 7, "utc": true},
              {"year": 2019, "month": 8, "date": 8, "utc": true},
              {"year": 2019, "month": 8, "date": 9, "utc": true},
              {"year": 2019, "month": 8, "date": 10, "utc": true},
              {"year": 2019, "month": 8, "date": 11, "utc": true}
            ],
            "format": "%b%d",
            "tickSize": -4.5,
            "labelPadding": 9,
            "labelOverlap": false,
            "labelFlush": false,
            "titleY": 41,
            "titleBaseline": "alphabetic"
          }
        },
        "x2": {"field": "e"},
        "y": {
          "field": "lo",
          "type": "quantitative",
          "title": "Cooler temp (°F)",
          "scale": {"domain": [35, 55], "nice": false, "zero": false},
          "axis": {
            "orient": "left",
            "values": [35, 40, 45, 50, 55],
            "tickSize": -4.5,
            "labelPadding": 15.2,
            "titleX": -47,
            "titleY": 153,
            "titleAlign": "center",
            "titleBaseline": "alphabetic"
          }
        },
        "y2": {"field": "hi"}
      }
    },
    {
      "data": {"name": "noon"},
      "mark": {"type": "rule", "color": "#c8c8c8", "strokeWidth": 1},
      "encoding": {
        "x": {
          "field": "t",
          "type": "temporal",
          "axis": {
            "orient": "top",
            "values": [
              {"year": 2019, "month": 8, "date": 4, "hours": 12, "utc": true}, {"year": 2019, "month": 8, "date": 4, "hours": 18, "utc": true},
              {"year": 2019, "month": 8, "date": 5, "hours": 0, "utc": true}, {"year": 2019, "month": 8, "date": 5, "hours": 6, "utc": true},
              {"year": 2019, "month": 8, "date": 5, "hours": 12, "utc": true}, {"year": 2019, "month": 8, "date": 5, "hours": 18, "utc": true},
              {"year": 2019, "month": 8, "date": 6, "hours": 0, "utc": true}, {"year": 2019, "month": 8, "date": 6, "hours": 6, "utc": true},
              {"year": 2019, "month": 8, "date": 6, "hours": 12, "utc": true}, {"year": 2019, "month": 8, "date": 6, "hours": 18, "utc": true},
              {"year": 2019, "month": 8, "date": 7, "hours": 0, "utc": true}, {"year": 2019, "month": 8, "date": 7, "hours": 6, "utc": true},
              {"year": 2019, "month": 8, "date": 7, "hours": 12, "utc": true}, {"year": 2019, "month": 8, "date": 7, "hours": 18, "utc": true},
              {"year": 2019, "month": 8, "date": 8, "hours": 0, "utc": true}, {"year": 2019, "month": 8, "date": 8, "hours": 6, "utc": true},
              {"year": 2019, "month": 8, "date": 8, "hours": 12, "utc": true}, {"year": 2019, "month": 8, "date": 8, "hours": 18, "utc": true},
              {"year": 2019, "month": 8, "date": 9, "hours": 0, "utc": true}, {"year": 2019, "month": 8, "date": 9, "hours": 6, "utc": true},
              {"year": 2019, "month": 8, "date": 9, "hours": 12, "utc": true}, {"year": 2019, "month": 8, "date": 9, "hours": 18, "utc": true},
              {"year": 2019, "month": 8, "date": 10, "hours": 0, "utc": true}, {"year": 2019, "month": 8, "date": 10, "hours": 6, "utc": true},
              {"year": 2019, "month": 8, "date": 10, "hours": 12, "utc": true}, {"year": 2019, "month": 8, "date": 10, "hours": 18, "utc": true},
              {"year": 2019, "month": 8, "date": 11, "hours": 0, "utc": true}, {"year": 2019, "month": 8, "date": 11, "hours": 6, "utc": true},
              {"year": 2019, "month": 8, "date": 11, "hours": 12, "utc": true}
            ],
            "labels": false,
            "tickSize": -4.5,
            "title": "Grab & Go 2 (Upper Left)",
            "titleX": 556,
            "titleY": -18,
            "titleAlign": "left",
            "titleBaseline": "alphabetic"
          }
        }
      }
    },
    {
      "data": {"name": "temp"},
      "mark": {"type": "line", "color": "#2a962a", "strokeWidth": 1},
      "encoding": {
        "x": {
          "field": "t",
          "type": "temporal",
          "axis": {
            "orient": "bottom",
            "values": [
              {"year": 2019, "month": 8, "date": 4, "hours": 12, "utc": true}, {"year": 2019, "month": 8, "date": 4, "hours": 18, "utc": true},
              {"year": 2019, "month": 8, "date": 5, "hours": 6, "utc": true}, {"year": 2019, "month": 8, "date": 5, "hours": 12, "utc": true},
              {"year": 2019, "month": 8, "date": 5, "hours": 18, "utc": true}, {"year": 2019, "month": 8, "date": 6, "hours": 6, "utc": true},
              {"year": 2019, "month": 8, "date": 6, "hours": 12, "utc": true}, {"year": 2019, "month": 8, "date": 6, "hours": 18, "utc": true},
              {"year": 2019, "month": 8, "date": 7, "hours": 6, "utc": true}, {"year": 2019, "month": 8, "date": 7, "hours": 12, "utc": true},
              {"year": 2019, "month": 8, "date": 7, "hours": 18, "utc": true}, {"year": 2019, "month": 8, "date": 8, "hours": 6, "utc": true},
              {"year": 2019, "month": 8, "date": 8, "hours": 12, "utc": true}, {"year": 2019, "month": 8, "date": 8, "hours": 18, "utc": true},
              {"year": 2019, "month": 8, "date": 9, "hours": 6, "utc": true}, {"year": 2019, "month": 8, "date": 9, "hours": 12, "utc": true},
              {"year": 2019, "month": 8, "date": 9, "hours": 18, "utc": true}, {"year": 2019, "month": 8, "date": 10, "hours": 6, "utc": true},
              {"year": 2019, "month": 8, "date": 10, "hours": 12, "utc": true}, {"year": 2019, "month": 8, "date": 10, "hours": 18, "utc": true},
              {"year": 2019, "month": 8, "date": 11, "hours": 6, "utc": true}, {"year": 2019, "month": 8, "date": 11, "hours": 12, "utc": true}
            ],
            "labels": false,
            "domain": false,
            "tickSize": -4.5,
            "title": null
          }
        },
        "y": {
          "field": "v",
          "type": "quantitative",
          "axis": {
            "orient": "right",
            "values": [35, 40, 45, 50, 55],
            "tickSize": -4.5,
            "labels": false,
            "title": "[sensor AJ]",
            "titleFontSize": 9,
            "titleAngle": 0,
            "titleX": -767,
            "titleY": -18,
            "titleAlign": "left",
            "titleBaseline": "alphabetic"
          }
        }
      }
    },
    {
      "data": {"name": "crosses"},
      "mark": {"type": "point", "shape": "M-1,-1L1,1M-1,1L1,-1", "filled": false, "size": 50, "color": "#2a962a", "strokeWidth": 1, "opacity": 1},
      "encoding": {
        "x": {"field": "t", "type": "temporal", "axis": null},
        "y": {
          "field": "v",
          "type": "quantitative",
          "axis": {
            "orient": "left",
            "values": [36, 37, 38, 39, 41, 42, 43, 44, 46, 47, 48, 49, 51, 52, 53, 54],
            "tickSize": -2.2,
            "labels": false,
            "domain": false,
            "title": null
          }
        }
      }
    },
    {
      "data": {"name": "pluses"},
      "mark": {"type": "point", "shape": "M-1,0L1,0M0,-1L0,1", "filled": false, "size": 50, "color": "#2a962a", "strokeWidth": 1, "opacity": 1},
      "encoding": {
        "x": {"field": "t", "type": "temporal", "axis": null},
        "y": {
          "field": "v",
          "type": "quantitative",
          "axis": {
            "orient": "right",
            "values": [36, 37, 38, 39, 41, 42, 43, 44, 46, 47, 48, 49, 51, 52, 53, 54],
            "tickSize": -2.2,
            "labels": false,
            "domain": false,
            "title": "[ALARMS DISABLED]",
            "titleAngle": 0,
            "titleX": -715,
            "titleY": -18,
            "titleAlign": "left",
            "titleBaseline": "alphabetic"
          }
        }
      }
    }
  ],
  "resolve": {"axis": {"x": "independent", "y": "independent"}}
}
